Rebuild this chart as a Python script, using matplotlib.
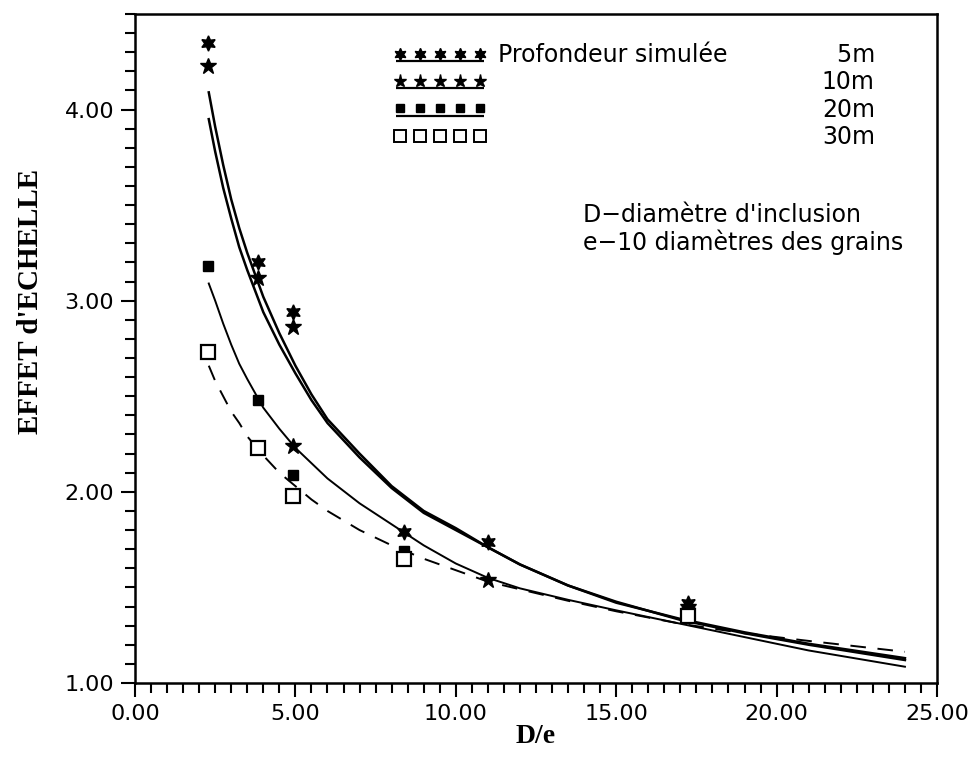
import numpy as np
import matplotlib
matplotlib.use("Agg")
import matplotlib.pyplot as plt
from matplotlib.lines import Line2D
from matplotlib.legend_handler import HandlerBase
from matplotlib.ticker import MultipleLocator, FormatStrFormatter

# Courbes d'ajustement
x_fit = [2.3, 2.5, 2.75, 3.0, 3.25, 3.5, 4.0, 4.5, 5.0, 5.5, 6.0, 7.0, 8.0, 9.0,
         10.0, 11.0, 12.0, 13.5, 15.0, 17.0, 19.0, 21.0, 24.0]
fit_5m = [4.09, 3.91, 3.71, 3.53, 3.38, 3.25, 3.02, 2.83, 2.66, 2.51, 2.38, 2.20, 2.03, 1.90,
          1.81, 1.71, 1.62, 1.51, 1.425, 1.33, 1.26, 1.20, 1.12]
fit_10m = [3.95, 3.78, 3.59, 3.43, 3.28, 3.16, 2.94, 2.77, 2.62, 2.48, 2.36, 2.18, 2.02, 1.89,
           1.80, 1.71, 1.62, 1.51, 1.42, 1.335, 1.265, 1.205, 1.13]
fit_20m = [3.09, 3.00, 2.88, 2.77, 2.67, 2.59, 2.44, 2.33, 2.23, 2.15, 2.07, 1.94, 1.83, 1.72,
           1.625, 1.55, 1.495, 1.435, 1.38, 1.31, 1.24, 1.17, 1.085]
fit_30m = [2.66, 2.58, 2.50, 2.42, 2.36, 2.29, 2.19, 2.10, 2.03, 1.96, 1.90, 1.80, 1.72, 1.65,
           1.59, 1.53, 1.49, 1.43, 1.375, 1.31, 1.26, 1.22, 1.163]

# Points mesurés
x_5m = [2.28, 3.84, 4.94, 8.37, 11.0, 17.25]
y_5m = [4.35, 3.20, 2.94, 1.79, 1.74, 1.42]
x_10m = [2.28, 3.84, 4.94, 4.94, 11.0, 17.25]
y_10m = [4.23, 3.12, 2.86, 2.24, 1.54, 1.40]
x_20m = [2.28, 3.84, 4.94, 8.37, 17.25]
y_20m = [3.18, 2.48, 2.09, 1.69, 1.37]
x_30m = [2.28, 3.84, 4.94, 8.37, 17.25]
y_30m = [2.73, 2.23, 1.98, 1.65, 1.35]

profondeurs = ["5m", "10m", "20m", "30m"]


class Souligne(HandlerBase):
    # 5 marqueurs avec la ligne en dessous
    def create_artists(self, legend, orig_handle, xdescent, ydescent, width, height, fontsize, trans):
        xs = np.linspace(-xdescent + 5, width - xdescent - 5, 5)
        ym = height / 2 - ydescent
        m = Line2D(xs, np.full(5, ym), linestyle="none", marker=orig_handle.get_marker(),
                   markersize=orig_handle.get_markersize() * 0.8,
                   markerfacecolor=orig_handle.get_markerfacecolor(),
                   markeredgecolor="black", markeredgewidth=orig_handle.get_markeredgewidth())
        m.set_transform(trans)
        arts = [m]
        if orig_handle.get_linestyle() not in ("None", "none", ""):
            l = Line2D([xs[0] - 3, xs[-1] + 3], [ym - height * 0.45] * 2, color="black",
                       lw=1.6, solid_capstyle="butt")
            l.set_transform(trans)
            arts.append(l)
        return arts


fig = plt.figure(figsize=(9.69, 7.57), dpi=100)
ax = fig.add_axes([0.1393, 0.0978, 0.8277, 0.8837])

ax.plot(x_fit, fit_5m, color="black", lw=1.8)
ax.plot(x_fit, fit_10m, color="black", lw=1.8)
ax.plot(x_fit, fit_20m, color="black", lw=1.4)
ax.plot(x_fit, fit_30m, color="black", lw=1.4, linestyle=(0, (8, 6)))

ax.plot(x_5m, y_5m, linestyle="none", marker=(6, 1, 0), markersize=11, color="black")
ax.plot(x_10m, y_10m, linestyle="none", marker="*", markersize=12, color="black")
ax.plot(x_20m, y_20m, linestyle="none", marker="s", markersize=7, color="black")
ax.plot(x_30m, y_30m, linestyle="none", marker="s", markersize=10, markerfacecolor="white",
        markeredgecolor="black", markeredgewidth=1.6)

ax.set_xlim(0, 25)
ax.set_ylim(1, 4.5)
ax.xaxis.set_major_locator(MultipleLocator(5))
ax.xaxis.set_minor_locator(MultipleLocator(0.5))
ax.yaxis.set_major_locator(MultipleLocator(1))
ax.yaxis.set_minor_locator(MultipleLocator(0.1))
ax.xaxis.set_major_formatter(FormatStrFormatter("%.2f"))
ax.yaxis.set_major_formatter(FormatStrFormatter("%.2f"))
ax.tick_params(which="both", direction="out", width=1.5, labelsize=16, top=False, right=False)
ax.tick_params(which="major", length=10, pad=5)
ax.tick_params(which="minor", length=7)
for sp in ax.spines.values():
    sp.set_linewidth(1.8)

ax.set_xlabel("D/e", fontsize=20, fontweight="bold", family="Liberation Serif", labelpad=0)
ax.set_ylabel("EFFET d'ECHELLE", fontsize=21, fontweight="bold", family="Liberation Serif")
ax.yaxis.set_label_coords(-0.113, 0.57)

# Légende
h = [Line2D([], [], marker=(6, 1, 0), markersize=11, color="black", lw=1.6),
     Line2D([], [], marker="*", markersize=12, color="black", lw=1.6),
     Line2D([], [], marker="s", markersize=7, color="black", lw=1.6),
     Line2D([], [], marker="s", markersize=11, markerfacecolor="white", markeredgecolor="black",
            markeredgewidth=1.4, linestyle="none")]
vide = [Line2D([], [], linestyle="none") for _ in profondeurs]
labels = ["Profondeur simulée", "", "", ""] + ["\u2007" + profondeurs[0]] + profondeurs[1:]
leg = ax.legend(h + vide, labels, ncol=2, loc="upper right", bbox_to_anchor=(0.9227, 0.9567),
                frameon=False, fontsize=17, handlelength=4.0, handletextpad=0.45,
                labelspacing=0.14, columnspacing=-0.45, borderpad=0, borderaxespad=0,
                handler_map={h[i]: Souligne() for i in range(4)})
for hd in leg.legend_handles[4:]:
    hd.set_visible(False)

ax.text(0.5586, 0.7175, "D\u2212diamètre d'inclusion\ne\u221210 diamètres des grains",
        transform=ax.transAxes, fontsize=17, va="top", ha="left", linespacing=1.1)

fig.savefig("out.png", dpi=100)
